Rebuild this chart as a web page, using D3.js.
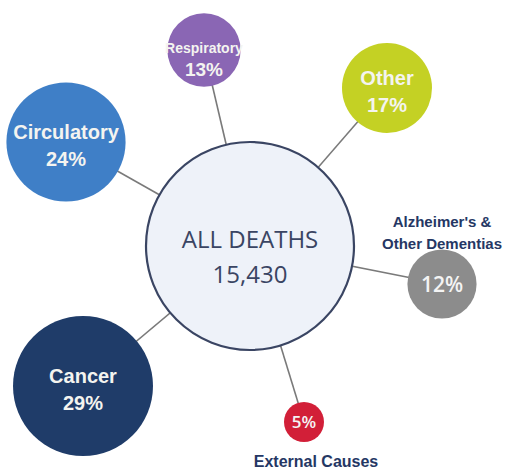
<!DOCTYPE html>
<html lang="en">
<head>
  <meta charset="UTF-8">
  <title>All Deaths by Cause</title>
  <script src="https://cdn.jsdelivr.net/npm/d3@7"></script>
  <style>
    body { margin: 0; background: #fff; }
  </style>
</head>
<body>
  <div id="container"></div>
  <script>
    // Data
    const categories = ["Respiratory", "Other", "Circulatory", "Alzheimer's & Other Dementias", "Cancer", "External Causes"];
    const shares = [13, 17, 24, 12, 29, 5];
    const totalLabel = "ALL DEATHS";
    const totalDeaths = 15430;

    // Layout (where each bubble sits, and where its name goes)
    const centers = [[204, 50], [387, 88], [66, 142], [442, 284], [83, 386], [304, 422]];
    const labelPlace = ["inside", "inside", "inside", "above", "inside", "below"];
    const colors = ["#8a66b4", "#c4d124", "#3f7fc7", "#8c8c8c", "#1f3c69", "#d21f38"];

    const width = 514, height = 469;
    const hub = { x: 250, y: 246, r: 104 };

    const r = d3.scaleLinear().domain([5, 29]).range([20, 70]);

    const nodes = categories.map((c, i) => ({
      name: c, value: shares[i], x: centers[i][0], y: centers[i][1],
      place: labelPlace[i], color: colors[i]
    }));

    const svg = d3.select("#container")
      .append("svg")
      .attr("width", width)
      .attr("height", height)
      .attr("viewBox", [0, 0, width, height]);

    // connectors, centre to centre (circles cover the ends)
    svg.append("g")
      .attr("stroke", "#7a7a7a")
      .attr("stroke-width", 1.6)
      .selectAll("line")
      .data(nodes)
      .join("line")
      .attr("x1", hub.x).attr("y1", hub.y)
      .attr("x2", d => d.x).attr("y2", d => d.y);

    // hub
    svg.append("circle")
      .attr("cx", hub.x).attr("cy", hub.y).attr("r", hub.r)
      .attr("fill", "#eef2f9")
      .attr("stroke", "#3a4563")
      .attr("stroke-width", 2.2);

    svg.append("text")
      .attr("x", hub.x).attr("y", 248)
      .attr("text-anchor", "middle")
      .attr("font-family", "Open Sans, sans-serif")
      .attr("font-size", 24)
      .attr("fill", "#3a4563")
      .text(totalLabel);

    svg.append("text")
      .attr("x", hub.x).attr("y", 283)
      .attr("text-anchor", "middle")
      .attr("font-family", "Open Sans, sans-serif")
      .attr("font-size", 24)
      .attr("fill", "#3a4563")
      .text(d3.format(",")(totalDeaths));

    // bubbles
    const g = svg.append("g")
      .selectAll("g")
      .data(nodes)
      .join("g")
      .attr("transform", d => `translate(${d.x},${d.y})`);

    g.append("circle")
      .attr("r", d => r(d.value))
      .attr("fill", d => d.color);

    // names inside bubbles
    const inside = g.filter(d => d.place === "inside");
    inside.append("text")
      .attr("text-anchor", "middle")
      .attr("font-family", "Liberation Sans, Arial, sans-serif")
      .attr("font-weight", "bold")
      .attr("fill", "#f4f4f0")
      .attr("font-size", d => d.value < 15 ? 14 : 20)
      .attr("y", d => d.value < 15 ? 3 : -3)
      .text(d => d.name);

    inside.append("text")
      .attr("text-anchor", "middle")
      .attr("font-family", "Liberation Sans, Arial, sans-serif")
      .attr("font-weight", "bold")
      .attr("fill", "#f4f4f0")
      .attr("font-size", d => d.value < 15 ? 19 : 20)
      .attr("y", d => d.value < 15 ? 26 : 24)
      .text(d => d.value + "%");

    // percentages in small bubbles
    const outside = g.filter(d => d.place !== "inside");
    outside.append("text")
      .attr("text-anchor", "middle")
      .attr("font-family", "Open Sans, sans-serif")
      .attr("font-weight", 600)
      .attr("fill", "#f4f4f4")
      .attr("font-size", d => d.value < 8 ? 17 : 21)
      .attr("y", d => d.value < 8 ? 6 : 8)
      .text(d => d.value + "%");

    // names outside
    outside.filter(d => d.place === "above")
      .append("text")
      .attr("text-anchor", "middle")
      .attr("font-family", "Liberation Sans, Arial, sans-serif")
      .attr("font-weight", "bold")
      .attr("font-size", 15)
      .attr("fill", "#253764")
      .selectAll("tspan")
      .data(d => d.name.split(/(?<=&) /))
      .join("tspan")
      .attr("x", 0)
      .attr("y", (t, i) => -57 + i * 22)
      .text(t => t);

    outside.filter(d => d.place === "below")
      .append("text")
      .attr("text-anchor", "middle")
      .attr("x", 12)
      .attr("y", 45)
      .attr("font-family", "Liberation Sans, Arial, sans-serif")
      .attr("font-weight", "bold")
      .attr("font-size", 16)
      .attr("fill", "#253764")
      .text(d => d.name);
  </script>
</body>
</html>
